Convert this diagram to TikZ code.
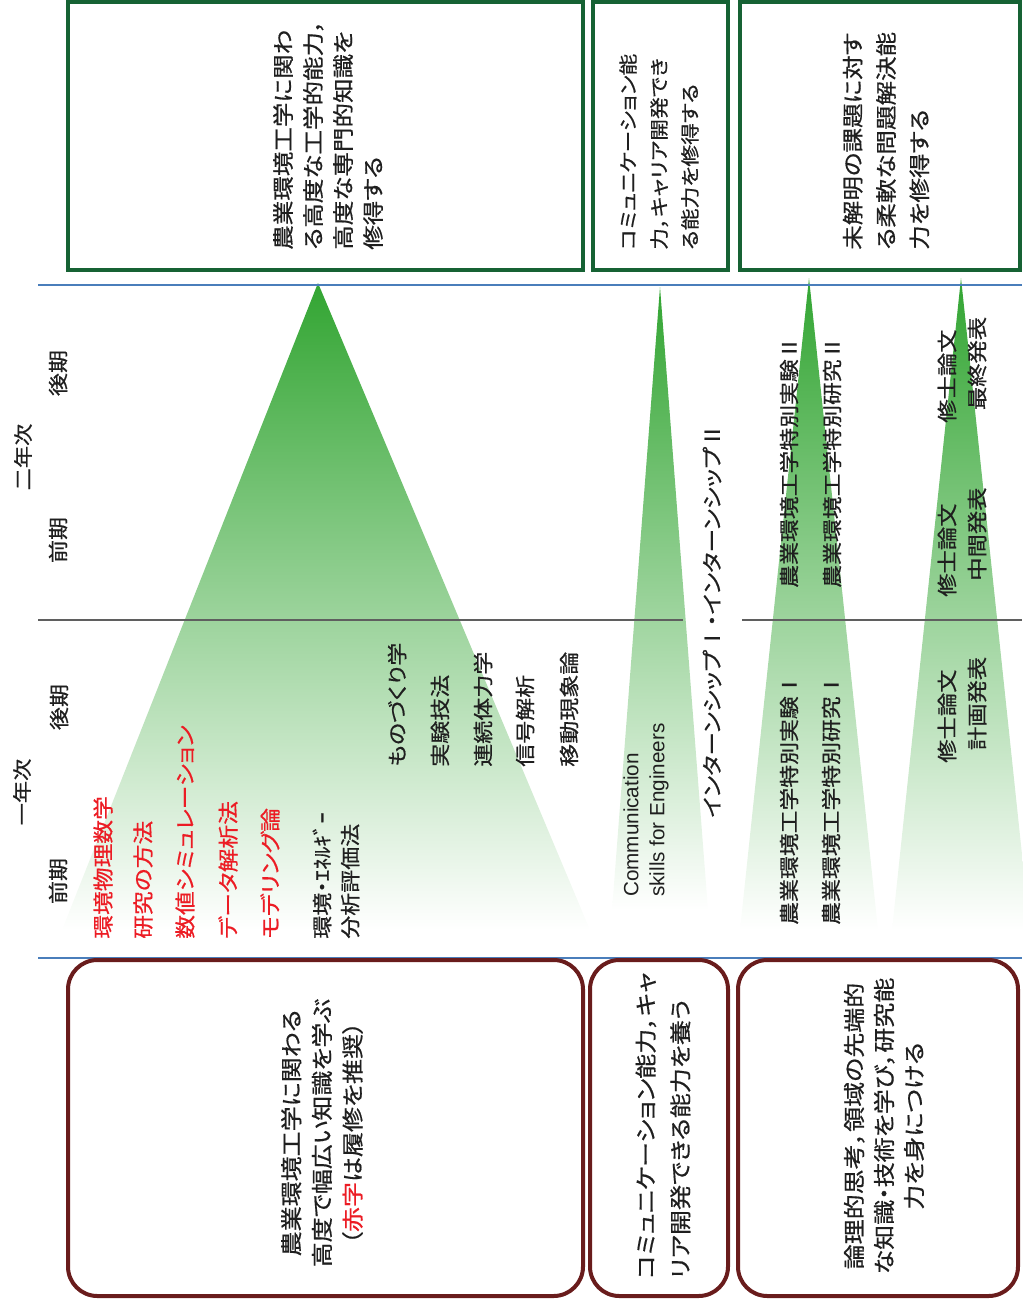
\documentclass[tikz,border=0pt]{standalone}
\usepackage{fontspec}
\newfontfamily\jp[FakeStretch=1.15, FakeBold=0.6, RawFeature=+palt]{Noto Sans CJK JP}
\newfontfamily\en{Liberation Sans}
\definecolor{boxgreen}{RGB}{22,98,52}
\definecolor{boxred}{RGB}{105,28,28}
\definecolor{lineblue}{RGB}{74,126,187}
\definecolor{linegray}{RGB}{95,95,95}
\definecolor{txtred}{RGB}{236,28,36}
\definecolor{trigreen}{RGB}{50,165,50}
\definecolor{trimid}{RGB}{178,221,172}
\newcommand\setfs[2]{\fontsize{#1}{#2}\selectfont}
\begin{document}
\begin{tikzpicture}[x=0.75pt,y=-0.75pt,
  goalbox/.style={draw=boxgreen, line width=3pt, fill=white},
  learnbox/.style={draw=boxred, line width=3pt, rounded corners=22pt, fill=white},
  sepblue/.style={draw=lineblue, line width=1.1pt},
  sepgray/.style={draw=linegray, line width=1.1pt},
  tri/.style={top color=trigreen, middle color=trimid, bottom color=white},
  vt/.style={rotate=90, inner sep=0pt, text=black!88},
  vl/.style={vt, anchor=west, align=left},
  vc/.style={vt, anchor=center, align=center},
  red/.style={text=txtred}
]
\useasboundingbox (0,0) rectangle (1022,1304);

% triangles
\shade[tri] (318,283) -- (590,930) -- (62,930) -- cycle;
\shade[tri] (660,287) -- (708,910) -- (612,910) -- cycle;
\shade[tri] (809,278) -- (878,930) -- (740,930) -- cycle;
\shade[tri] (961,278) -- (1030,930) -- (892,930) -- cycle;

% separators
\coordinate (b1l) at (38,285);  \coordinate (b1r) at (1022,285);
\coordinate (b2l) at (38,958);  \coordinate (b2r) at (1022,958);
\coordinate (g1l) at (38,620);  \coordinate (g1r) at (683,620);
\coordinate (g2l) at (742,620); \coordinate (g2r) at (1022,620);
\draw[sepblue] (b1l) -- (b1r);
\draw[sepblue] (b2l) -- (b2r);
\draw[sepgray] (g1l) -- (g1r);
\draw[sepgray] (g2l) -- (g2r);

% goal boxes
\draw[goalbox] (68,2) rectangle (583,270);
\draw[goalbox] (593,2) rectangle (728,270);
\draw[goalbox] (740,2) rectangle (1020,270);

% learning boxes
\draw[learnbox] (68,960) rectangle (583,1296);
\draw[learnbox] (590,960) rectangle (728,1296);
\draw[learnbox] (738,960) rectangle (1018,1296);

% goal texts
\node[vl, font={\jp\setfs{16pt}{22.5pt}}] (gA) at (328,250)
  {農業環境工学に関わ\\る高度な工学的能力，\\高度な専門的知識を\\修得する};
\node[vl, font={\jp\setfs{14.2pt}{23.2pt}}] (gB) at (659,250)
  {コミュニケーション能\\力，キャリア開発でき\\る能力を修得する};
\node[vl, font={\jp\setfs{16pt}{25pt}}] (gC) at (886,250)
  {未解明の課題に対す\\る柔軟な問題解決能\\力を修得する};

% learning texts
\node[vc, font={\jp\setfs{16.3pt}{23pt}}] (lA) at (322,1133)
  {農業環境工学に関わる\\高度で幅広い知識を学ぶ\\（{\color{txtred}赤字}は履修を推奨）};
\node[vl, font={\jp\setfs{16.3pt}{26pt}}] (lB) at (663,1279)
  {コミュニケーション能力，キャ\\リア開発できる能力を養う};
\node[vc, font={\jp\setfs{16.3pt}{22.5pt}}] (lC) at (884,1126)
  {論理的思考，領域の先端的\\な知識・技術を学び，研究能\\力を身につける};

% year / term labels
\node[vc, font={\jp\setfs{14.5pt}{16pt}}] (y2) at (23,457) {二年次};
\node[vc, font={\jp\setfs{14.5pt}{16pt}}] (y1) at (22,792) {一年次};
\node[vc, font={\jp\setfs{15pt}{16pt}}] (t4) at (58,373) {後期};
\node[vc, font={\jp\setfs{15pt}{16pt}}] (t3) at (58,540) {前期};
\node[vc, font={\jp\setfs{15pt}{16pt}}] (t2) at (59,707) {後期};
\node[vc, font={\jp\setfs{15pt}{16pt}}] (t1) at (58,881) {前期};

% first-year courses
\node[vl, red, font={\jp\setfs{15.5pt}{18pt}}] (c1) at (103,939) {環境物理数学};
\node[vl, red, font={\jp\setfs{15.5pt}{18pt}}] (c2) at (143,939) {研究の方法};
\node[vl, red, font={\jp\setfs{15.5pt}{18pt}}] (c3) at (185,939) {数値シミュレーション};
\node[vl, red, font={\jp\setfs{15.5pt}{18pt}}] (c4) at (228,939) {データ解析法};
\node[vl, red, font={\jp\setfs{15.5pt}{18pt}}] (c5) at (270,939) {モデリング論};
\node[vl, font={\jp\setfs{15pt}{21pt}}] (c6) at (336,939) {環境・ｴﾈﾙｷﾞｰ\\分析評価法};

\node[vl, font={\jp\setfs{15pt}{18pt}}] (d1) at (397,767) {ものづくり学};
\node[vl, font={\jp\setfs{15pt}{18pt}}] (d2) at (440,767) {実験技法};
\node[vl, font={\jp\setfs{15pt}{18pt}}] (d3) at (483,767) {連続体力学};
\node[vl, font={\jp\setfs{15pt}{18pt}}] (d4) at (525,767) {信号解析};
\node[vl, font={\jp\setfs{15pt}{18pt}}] (d5) at (569,767) {移動現象論};

% communication column
\node[vl, font={\en\setfs{15.5pt}{19.5pt}}] (en) at (646,897)
  {Communication\\skills for Engineers};
\node[vl, font={\jp\setfs{15.4pt}{16pt}}] (intern) at (712,818)
  {インターンシップⅠ・インターンシップⅡ};

% research column
\node[vl, font={\jp\setfs{14.9pt}{18pt}}] (e2) at (789,588) {農業環境工学特別実験Ⅱ};
\node[vl, font={\jp\setfs{14.9pt}{18pt}}] (r2) at (832,588) {農業環境工学特別研究Ⅱ};
\node[vl, font={\jp\setfs{14.9pt}{18pt}}] (e1) at (789,925) {農業環境工学特別実験Ⅰ};
\node[vl, font={\jp\setfs{14.9pt}{18pt}}] (r1) at (831,925) {農業環境工学特別研究Ⅰ};

\node[vl, font={\jp\setfs{15.2pt}{22.5pt}}] (m3) at (962,423)
  {修士論文\\\hspace*{9.5pt}最終発表};
\node[vl, font={\jp\setfs{15.2pt}{22.5pt}}] (m2) at (962,597)
  {修士論文\\\hspace*{12pt}中間発表};
\node[vl, font={\jp\setfs{15.2pt}{22.5pt}}] (m1) at (962,763)
  {修士論文\\\hspace*{9.5pt}計画発表};
\end{tikzpicture}
\end{document}
